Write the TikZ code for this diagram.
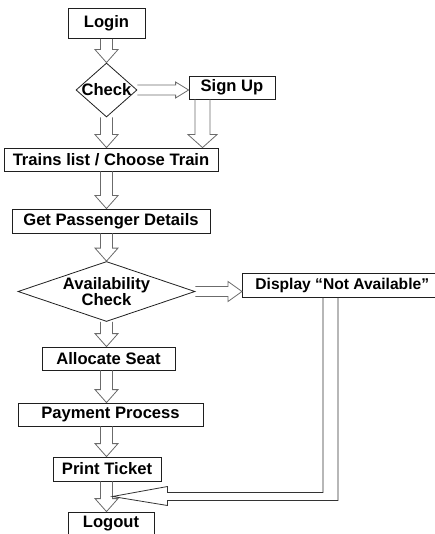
\documentclass[tikz,border=0pt]{standalone}
\usepackage{fontspec}
\setmainfont{Liberation Sans}
\usetikzlibrary{shapes.geometric,calc}

\definecolor{boxline}{gray}{0.12}
\definecolor{arrowline}{gray}{0.42}
\definecolor{returncol}{gray}{0.2}

\newcommand\flowfont{\fontsize{16.6}{16}\selectfont\bfseries}

% hollow block arrow pointing down, centred on the x of axis #3
% #1 source anchor, #2 target anchor, #4 half shaft, #5 half head, #6 head length
\newcommand\downblock[6]{%
  \draw[blockline] let \p1=(#1 -| #3), \p2=(#2 -| #3) in
    (\x1-#4,\y1) -- (\x1-#4,\y2+#6) -- (\x1-#5,\y2+#6) -- (\x2,\y2)
    -- (\x1+#5,\y2+#6) -- (\x1+#4,\y2+#6) -- (\x1+#4,\y1);}

% hollow block arrow pointing right, at the height of #3
\newcommand\rightblock[6]{%
  \draw[blockline] let \p1=(#1 |- #3), \p2=(#2 |- #3) in
    (\x1,\y1+#4) -- (\x2-#6,\y1+#4) -- (\x2-#6,\y1+#5) -- (\x2,\y2)
    -- (\x2-#6,\y1-#5) -- (\x2-#6,\y1-#4) -- (\x1,\y1-#4);}

\tikzset{
  stepbox/.style={draw=boxline, line width=0.8pt, inner sep=0pt,
    minimum height=23pt, font=\flowfont, text=black},
  decision/.style={draw=boxline, line width=0.8pt, shape=diamond,
    inner sep=0pt, font=\flowfont, align=center, text=black},
  blockline/.style={draw=arrowline, line width=0.8pt, line join=miter},
  returnline/.style={draw=returncol, line width=0.8pt, line join=miter},
}

\begin{document}
\begin{tikzpicture}[x=1pt, y=-1pt]
\useasboundingbox (0,0) rectangle (435,534);

% axes of the block arrows
\coordinate (spine) at (106.5,0);
\coordinate (sidespine) at (202.5,0);
\coordinate (dropaxis) at (330.5,0);

% steps of the booking flow
\node[stepbox, minimum width=77pt, minimum height=30pt] (login) at (106.5,23.5) {Login};
\node[decision, minimum width=61pt, minimum height=54pt] (check) at (106.5,90) {\makebox[0pt]{Check}};
\node[stepbox, minimum width=86pt] (signup) at (232,87.5) {Sign Up};
\node[stepbox, minimum width=214pt] (trains) at (111,159.5) {Trains list / Choose Train};
\node[stepbox, minimum width=198pt, minimum height=24pt] (details) at (111,221) {Get Passenger Details};
\node[decision, minimum width=177pt, minimum height=60pt] (avail) at (106.5,291.5)
  {\makebox[0pt]{Availability}\\\makebox[0pt]{Check}};
\node[stepbox, anchor=west, minimum height=24pt, inner xsep=13pt,
  font=\fontsize{15.6}{16}\selectfont\bfseries] (display) at (242,285)
  {Display “Not Available”};
\node[stepbox, minimum width=133pt] (allocate) at (108.5,358.5) {Allocate Seat};
\node[stepbox, minimum width=185pt] (payment) at (110.5,414.5) {Payment Process};
\node[stepbox, minimum width=108pt, minimum height=24pt] (print) at (107,469) {Print Ticket};
\node[stepbox, minimum width=86pt] (logout) at (111,523.5) {Logout};

% main line of block arrows
\downblock{login.south}{check.north}{spine}{6pt}{11.5pt}{13pt}
\downblock{check.south}{trains.north}{spine}{6pt}{11.5pt}{13pt}
\downblock{trains.south}{details.north}{spine}{6pt}{11.5pt}{13pt}
\downblock{details.south}{avail.north}{spine}{6pt}{11.5pt}{13pt}
\downblock{avail.south}{allocate.north}{spine}{6pt}{11.5pt}{13pt}
\downblock{allocate.south}{payment.north}{spine}{6pt}{11.5pt}{13pt}
\downblock{payment.south}{print.north}{spine}{6pt}{11.5pt}{13pt}
\downblock{print.south}{logout.north}{spine}{6pt}{11.5pt}{13pt}

% side branches
\rightblock{check.east}{signup.west}{check.east}{5pt}{8pt}{13pt}
\downblock{signup.south}{trains.north}{sidespine}{7.5pt}{14.5pt}{13pt}
\rightblock{avail.east}{display.west}{avail.east}{5pt}{10pt}{14pt}

% return from "Not Available" into the last main arrow
\coordinate (rejoin) at ($(print.south -| spine)!0.5!(logout.north -| spine)+(6,0)$);
\draw[returnline] let \p1=(display.south -| dropaxis), \p2=(rejoin) in
  (\x1-7.5pt,\y1) -- (\x1-7.5pt,\y2+4pt) -- (\x2+55pt,\y2+4pt) -- (\x2+55pt,\y2+10pt)
  -- (\x2,\y2) -- (\x2+55pt,\y2-9pt) -- (\x2+55pt,\y2-4pt) -- (\x1+7.5pt,\y2-4pt)
  -- (\x1+7.5pt,\y1);
\end{tikzpicture}
\end{document}
